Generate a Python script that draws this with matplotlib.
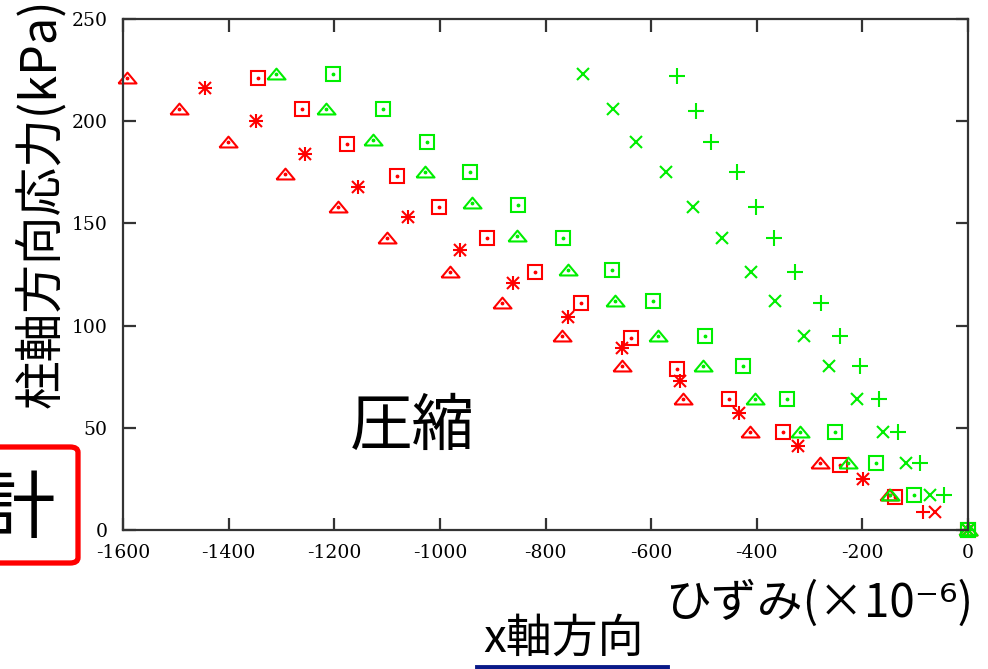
import matplotlib
matplotlib.use("Agg")
import matplotlib.pyplot as plt
from matplotlib.patches import FancyBboxPatch
from matplotlib.lines import Line2D

# strain (x1e-6) and column axial stress (kPa)
red_tri_strain = [-1593, -1494, -1402, -1294, -1193, -1100, -981, -883, -769, -655, -540, -413, -280, -150, 0]
red_tri_stress = [221, 206, 190, 174, 158, 143, 126, 111, 95, 80, 64, 48, 33, 17, 0]

red_ast_strain = [-1445, -1348, -1256, -1155, -1061, -962, -862, -758, -655, -545, -434, -322, -199, 0]
red_ast_stress = [216, 200, 184, 168, 153, 137, 121, 104, 89, 73, 57, 41, 25, 0]

red_sq_strain = [-1345, -1261, -1176, -1081, -1002, -911, -820, -733, -638, -551, -453, -350, -242, -138, 0]
red_sq_stress = [221, 206, 189, 173, 158, 143, 126, 111, 94, 79, 64, 48, 32, 16, 0]

red_plus_strain = [-85, 0]
red_plus_stress = [9, 0]
red_x_strain = [-62]
red_x_stress = [9]

grn_tri_strain = [-1311, -1216, -1127, -1028, -939, -854, -758, -669, -587, -502, -403, -318, -227, -148, 0]
grn_tri_stress = [223, 206, 191, 175, 160, 144, 127, 112, 95, 80, 64, 48, 33, 17, 0]

grn_sq_strain = [-1203, -1108, -1025, -943, -852, -767, -674, -597, -498, -426, -343, -252, -174, -102, 0]
grn_sq_stress = [223, 206, 190, 175, 159, 143, 127, 112, 95, 80, 64, 48, 33, 17, 0]

grn_x_strain = [-729, -672, -629, -572, -521, -466, -411, -366, -311, -263, -210, -161, -117, -72, 0]
grn_x_stress = [223, 206, 190, 175, 158, 143, 126, 112, 95, 80, 64, 48, 33, 17, 0]

grn_plus_strain = [-551, -515, -487, -438, -402, -367, -328, -278, -242, -205, -169, -133, -91, -45, 0]
grn_plus_stress = [222, 205, 190, 175, 158, 143, 126, 111, 95, 80, 64, 48, 33, 17, 0]

xticks = [-1600, -1400, -1200, -1000, -800, -600, -400, -200, 0]
yticks = [0, 50, 100, 150, 200, 250]

RED = '#ff0000'
GREEN = '#00ee00'
jp = ['Noto Sans CJK JP', 'DejaVu Sans']
plt.rcParams['axes.unicode_minus'] = False

W, H = 988, 669
fig = plt.figure(figsize=(W / 100, H / 100), dpi=100)
ax = fig.add_axes([123 / W, 1 - 530 / H, (968 - 123) / W, (530 - 19) / H])

tri = [(-1, -0.55), (1, -0.55), (0, 0.65), (-1, -0.55)]
mew = 1.5


def hollow(x, y, marker, ms, color):
    ax.plot(x, y, ls='none', marker=marker, ms=ms, mfc='none', mec=color, mew=mew, clip_on=False)
    ax.plot(x, y, ls='none', marker='.', ms=3.5, color=color, clip_on=False)


def lines(x, y, marker, ms, color):
    ax.plot(x, y, ls='none', marker=marker, ms=ms, color=color, mew=mew, clip_on=False)


hollow(red_tri_strain, red_tri_stress, tri, 13, RED)
hollow(red_sq_strain, red_sq_stress, 's', 9.5, RED)
lines(red_ast_strain, red_ast_stress, '+', 10, RED)
lines(red_ast_strain, red_ast_stress, 'x', 8, RED)
lines(red_plus_strain, red_plus_stress, '+', 10, RED)
lines(red_x_strain, red_x_stress, 'x', 8, RED)

hollow(grn_tri_strain, grn_tri_stress, tri, 13, GREEN)
hollow(grn_sq_strain, grn_sq_stress, 's', 9.5, GREEN)
lines(grn_x_strain, grn_x_stress, 'x', 9, GREEN)
lines(grn_plus_strain, grn_plus_stress, '+', 11, GREEN)

ax.set_xlim(-1600, 0)
ax.set_ylim(0, 250)
ax.set_xticks(xticks)
ax.set_yticks(yticks)
for s in ax.spines.values():
    s.set_linewidth(1.6)
    s.set_color('#333333')
ax.tick_params(direction='in', length=9, width=1.6, color='#333333',
               top=True, right=True, labelsize=13.5)
ax.tick_params(axis='x', pad=10)
ax.tick_params(axis='y', pad=11)
for lab in ax.get_xticklabels() + ax.get_yticklabels():
    lab.set_family('DejaVu Serif')

fig.text(41 / W, 1 - 203 / H, '柱軸方向応力(kPa)', rotation=90, ha='center', va='center',
         fontsize=35, family=jp)
fig.text(412 / W, 1 - 427 / H, '圧縮', ha='center', va='center', fontsize=45, family=jp)
fig.text(665 / W, 1 - 617 / H, 'ひずみ(×10⁻⁶)', ha='left', va='baseline', fontsize=33, family=jp)
fig.text(483 / W, 1 - 652 / H, 'x軸方向', ha='left', va='baseline', fontsize=33, family=jp)
fig.text(18 / W, 1 - 532 / H, '計', ha='center', va='baseline', fontsize=53, family=jp)

box = FancyBboxPatch((-60 / W, 1 - 563 / H), 138 / W, 116 / H,
                     boxstyle='round,pad=0,rounding_size=0.008', transform=fig.transFigure,
                     fill=False, ec=RED, lw=3.8)
fig.patches.append(box)
fig.lines.append(Line2D([477 / W, 667 / W], [1 - 667 / H, 1 - 667 / H], transform=fig.transFigure,
                        color='#0a1a88', lw=3.5))

fig.savefig('out.png', dpi=100)
